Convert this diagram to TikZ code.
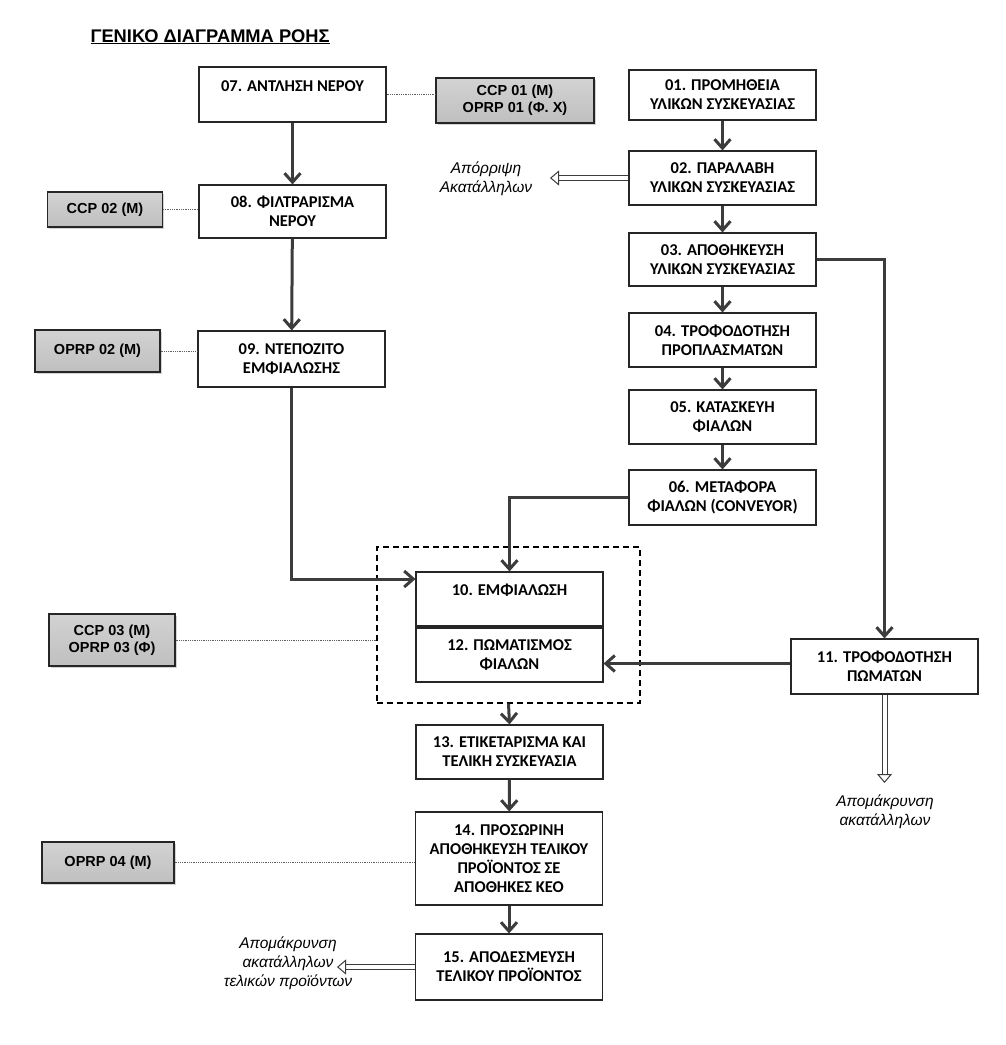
\documentclass[tikz,border=0pt]{standalone}
\usepackage{fontspec}
\setmainfont{Carlito}
\newfontfamily\arialfont{Liberation Sans}
\usetikzlibrary{arrows.meta, positioning, fit, shadows}
\definecolor{flowgray}{RGB}{60,60,60}
\definecolor{linegray}{RGB}{95,95,95}

\begin{document}
\begin{tikzpicture}[x=1pt, y=-1pt,
 box/.style={draw=black!85, line width=1.1pt, fill=white, align=center, minimum width=187pt, font=\fontsize{16.5}{19}\selectfont\bfseries},
 onetext/.style={text height=11pt, text depth=18pt},
 cp/.style={draw=black!85, line width=1.1pt, top color=gray!35, middle color=gray!8, bottom color=gray!50, drop shadow={opacity=0.35, shadow xshift=1.5pt, shadow yshift=-1.5pt}, align=center, font=\arialfont\fontsize{14.5}{17}\selectfont\bfseries},
 note/.style={align=center, font=\arialfont\itshape\fontsize{15.5}{19}\selectfont},
 flow/.style={draw=flowgray, line width=3pt, -{Straight Barb[length=9pt, width=16pt]}},
 waste/.style={draw=flowgray, line width=1pt, double=white, double distance=4pt, -{Triangle[open, fill=white, length=9pt, width=15pt, line width=1pt]}},
 link/.style={draw=linegray, line width=0.8pt, densely dotted}]
 \useasboundingbox (0,0) rectangle (1006,1045);
 \node[anchor=base west, font=\arialfont\bfseries\fontsize{18.3}{22}\selectfont] (title) at (87,42) {\underline{ΓΕΝΙΚΟ ΔΙΑΓΡΑΜΜΑ ΡΟΗΣ}};
 \node[draw, dash pattern=on 6pt off 4pt, line width=1.1pt, minimum width=263pt, minimum height=156pt] (grp) at (508.5,625) {};
 \node[box, onetext, minimum height=55pt] (s07) at (292.5,94.5) {07. ΑΝΤΛΗΣΗ ΝΕΡΟΥ};
 \node[box, minimum height=53pt] (s08) at (292.5,211.5) {08. ΦΙΛΤΡΑΡΙΣΜΑ\\ΝΕΡΟΥ};
 \node[box, minimum height=56pt] (s09) at (291.5,359) {09. ΝΤΕΠΟΖΙΤΟ\\ΕΜΦΙΑΛΩΣΗΣ};
 \node[box, minimum height=50pt] (s01) at (722.5,95) {01. ΠΡΟΜΗΘΕΙΑ\\ΥΛΙΚΩΝ ΣΥΣΚΕΥΑΣΙΑΣ};
 \node[box, minimum height=54pt] (s02) at (722.5,178) {02. ΠΑΡΑΛΑΒΗ\\ΥΛΙΚΩΝ ΣΥΣΚΕΥΑΣΙΑΣ};
 \node[box, minimum height=53pt] (s03) at (722.5,259.5) {03. ΑΠΟΘΗΚΕΥΣΗ\\ΥΛΙΚΩΝ ΣΥΣΚΕΥΑΣΙΑΣ};
 \node[box, minimum height=54pt] (s04) at (722.5,340) {04. ΤΡΟΦΟΔΟΤΗΣΗ\\ΠΡΟΠΛΑΣΜΑΤΩΝ};
 \node[box, minimum height=54pt] (s05) at (722.5,417) {05. ΚΑΤΑΣΚΕΥΗ\\ΦΙΑΛΩΝ};
 \node[box, minimum height=55pt] (s06) at (722.5,497.5) {06. ΜΕΤΑΦΟΡΑ\\ΦΙΑΛΩΝ (CONVEYOR)};
 \node[box, onetext, minimum height=54pt] (s10) at (509.5,599) {10. ΕΜΦΙΑΛΩΣΗ};
 \node[box, minimum height=54pt] (s12) at (509.5,655) {12. ΠΩΜΑΤΙΣΜΟΣ\\ΦΙΑΛΩΝ};
 \node[box, minimum height=55pt] (s11) at (884.5,666.5) {11. ΤΡΟΦΟΔΟΤΗΣΗ\\ΠΩΜΑΤΩΝ};
 \node[box, minimum height=54pt] (s13) at (509.5,752) {13. ΕΤΙΚΕΤΑΡΙΣΜΑ ΚΑΙ\\ΤΕΛΙΚΗ ΣΥΣΚΕΥΑΣΙΑ};
 \node[box, minimum height=93pt] (s14) at (509,858.5) {14. ΠΡΟΣΩΡΙΝΗ\\ΑΠΟΘΗΚΕΥΣΗ ΤΕΛΙΚΟΥ\\ΠΡΟΪΟΝΤΟΣ ΣΕ\\ΑΠΟΘΗΚΕΣ ΚΕΟ};
 \node[box, minimum height=66pt] (s15) at (509,967) {15. ΑΠΟΔΕΣΜΕΥΣΗ\\ΤΕΛΙΚΟΥ ΠΡΟΪΟΝΤΟΣ};
 \node[cp, minimum width=158pt, minimum height=45pt] (ccp01) at (515,100.5) {CCP 01 (M)\\OPRP 01 (Φ. Χ)};
 \node[cp, minimum width=115pt, minimum height=35pt] (ccp02) at (105,209.5) {CCP 02 (M)};
 \node[cp, minimum width=125pt, minimum height=42pt] (oprp02) at (97.5,351) {OPRP 02 (M)};
 \node[cp, minimum width=126pt, minimum height=52pt] (ccp03) at (112,640) {CCP 03 (M)\\OPRP 03 (Φ)};
 \node[cp, minimum width=132pt, minimum height=41pt] (oprp04) at (108,862.5) {OPRP 04 (M)};
 \node[note] (rej1) at (486,179) {Απόρριψη\\Ακατάλληλων};
 \node[note] (rej2) at (885,812) {Απομάκρυνση\\ακατάλληλων};
 \node[note] (rej3) at (288,963) {Απομάκρυνση\\ακατάλληλων\\τελικών προϊόντων};
 \coordinate (r1) at (550,178);
 \coordinate (r2) at (884.5,783);
 \coordinate (r3) at (337,967);
 \draw[flow] (s07) -- (s08);
 \draw[flow] (s08) -- (s09);
 \draw[flow] (s09.south) |- ([yshift=20pt]s10.west);
 \draw[flow] (s01) -- (s02);
 \draw[flow] (s02) -- (s03);
 \draw[flow] (s03) -- (s04);
 \draw[flow] (s04) -- (s05);
 \draw[flow] (s05) -- (s06);
 \draw[flow] (s06.west) -| (s10.north);
 \draw[flow] (s03.east) -| (s11.north);
 \draw[flow] ([yshift=3pt]s11.west) -- ([yshift=3pt]s11.west -| s12.east);
 \draw[flow] (grp.south) -- (s13.north);
 \draw[flow] (s13) -- (s14);
 \draw[flow] (s14) -- (s15);
 \draw[waste] (s02.west) -- (r1);
 \draw[waste] (s11.south) -- (r2);
 \draw[waste] (s15.west) -- (r3);
 \draw[link] (s07.east) -- (s07.east -| ccp01.west);
 \draw[link] (ccp02.east) -- (ccp02.east -| s08.west);
 \draw[link] (oprp02.east) -- (oprp02.east -| s09.west);
 \draw[link] (ccp03.east) -- (ccp03.east -| grp.west);
 \draw[link] (oprp04.east) -- (oprp04.east -| s14.west);
\end{tikzpicture}
\end{document}
